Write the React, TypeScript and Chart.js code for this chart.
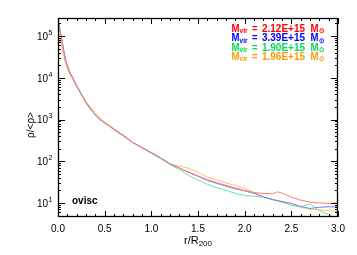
import React, { useEffect, useRef } from "react";
import { Chart, registerables } from "chart.js";

Chart.register(...registerables);

// r / R200 sample positions
const radius = [
  0, 0.02, 0.04, 0.06, 0.08, 0.1, 0.13, 0.16, 0.2, 0.25, 0.3, 0.35, 0.4, 0.45, 0.5, 0.55, 0.6,
  0.7, 0.8, 0.9, 1.0, 1.1, 1.2, 1.3, 1.4, 1.5, 1.6, 1.7, 1.8, 1.9, 2.0, 2.1, 2.2, 2.3, 2.35, 2.4,
  2.5, 2.6, 2.7, 2.8, 2.9, 3.0,
];

// rho / <rho> for each halo
const rhoRed = [
  2.5e5, 1.38e5, 8.3e4, 4.6e4, 2.7e4, 1.95e4, 1.29e4, 9.8e3, 6.3e3, 4.0e3, 2.5e3, 1.78e3, 1.29e3,
  1.0e3, 830, 710, 590, 417, 282, 209, 158, 120, 87, 69, 55, 44.7, 36.3, 30.9, 26.3, 22.9, 20.0,
  17.8, 17.0, 16.6, 18.6, 17.2, 13.8, 11.7, 10.5, 10.0, 9.8, 10.0,
];
const rhoBlue = [
  2.6e5, 1.45e5, 8.5e4, 4.7e4, 2.75e4, 2.0e4, 1.32e4, 1.0e4, 6.5e3, 4.1e3, 2.57e3, 1.82e3, 1.29e3,
  1.0e3, 830, 710, 590, 417, 282, 214, 162, 120, 87, 69, 53.7, 43.7, 34.7, 29.5, 25.1, 21.9, 19.5,
  17.0, 14.1, 12.0, 11.5, 10.7, 9.8, 8.3, 7.4, 7.9, 8.1, 8.1,
];
const rhoGreen = [
  2.4e5, 1.32e5, 7.9e4, 4.3e4, 2.57e4, 1.86e4, 1.23e4, 9.5e3, 6.2e3, 3.9e3, 2.45e3, 1.74e3, 1.26e3,
  977, 813, 692, 575, 407, 282, 209, 155, 115, 83, 63, 45.7, 35.5, 28.2, 23.4, 20.0, 17.0, 15.1,
  14.5, 13.8, 12.0, 11.2, 10.5, 8.7, 8.1, 9.5, 6.6, 5.2, 4.1,
];
const rhoOrange = [
  1.6e5, 8.9e4, 6.0e4, 3.55e4, 2.24e4, 1.66e4, 1.15e4, 8.9e3, 6.0e3, 4.0e3, 2.63e3, 1.95e3, 1.48e3,
  1.12e3, 870, 692, 550, 398, 282, 209, 158, 120, 87, 76, 67.6, 55, 41.7, 35.5, 30.2, 26.3, 22.4,
  17.8, 14.1, 12.3, 11.5, 11.0, 9.5, 7.9, 7.1, 6.9, 6.6, 6.2,
];

const virialMasses = ["2.12E+15", "3.39E+15", "1.90E+15", "1.96E+15"];
const runLabel = "ovisc";

const xTicks = [0, 0.5, 1.0, 1.5, 2.0, 2.5, 3.0];
const xTickLabels = ["0.0", "0.5", "1.0", "1.5", "2.0", "2.5", "3.0"];
const yTicks = [10, 100, 1000, 10000, 100000];
const yTickExponents = ["1", "2", "3", "4", "5"];

const textColors = ["#ff0000", "#0000ff", "#00dd55", "#ff9900"];
const lineColors = ["#ff7a7a", "#7a7aff", "#66e89a", "#ffbe6a"];

const FONT = "'Liberation Sans', Arial, Helvetica, sans-serif";

function fitText(
  ctx: CanvasRenderingContext2D,
  text: string,
  x: number,
  y: number,
  font: string,
  width: number
) {
  ctx.font = font;
  const w = ctx.measureText(text).width;
  ctx.save();
  ctx.translate(x, y);
  ctx.scale(width / w, 1);
  ctx.textAlign = "left";
  ctx.fillText(text, 0, 0);
  ctx.restore();
}

const framePlugin = {
  id: "idlFrame",
  afterDraw(chart: any) {
    const ctx = chart.ctx as CanvasRenderingContext2D;
    const { left, right, top, bottom } = chart.chartArea;
    const xs = chart.scales.x;
    const ys = chart.scales.y;
    ctx.save();
    ctx.strokeStyle = "#000";
    ctx.lineWidth = 1.3;
    ctx.strokeRect(left + 0.5, top + 0.5, right - left - 1, bottom - top - 1);

    ctx.lineWidth = 1;
    ctx.beginPath();
    for (let k = 0; k <= 30; k++) {
      const v = k / 10;
      const px = Math.round(xs.getPixelForValue(v)) + 0.5;
      const len = k % 5 === 0 ? 6 : 3;
      ctx.moveTo(px, bottom);
      ctx.lineTo(px, bottom - len);
      ctx.moveTo(px, top);
      ctx.lineTo(px, top + len);
    }
    for (let d = 0; d <= 5; d++) {
      for (let m = 1; m <= 9; m++) {
        const v = m * Math.pow(10, d);
        if (v < ys.min || v > ys.max) continue;
        const py = Math.round(ys.getPixelForValue(v)) + 0.5;
        const len = m === 1 ? 7 : 3;
        ctx.moveTo(left, py);
        ctx.lineTo(left + len, py);
        ctx.moveTo(right, py);
        ctx.lineTo(right - len, py);
      }
    }
    ctx.stroke();

    ctx.fillStyle = "#000";
    ctx.font = `10px ${FONT}`;
    ctx.textAlign = "center";
    ctx.textBaseline = "middle";
    xTicks.forEach((v, i) => {
      ctx.fillText(xTickLabels[i], xs.getPixelForValue(v), bottom + 12);
    });
    yTicks.forEach((v, i) => {
      const py = ys.getPixelForValue(v);
      ctx.font = `10px ${FONT}`;
      ctx.textAlign = "right";
      ctx.fillText("10", left - 10, py + 1);
      ctx.font = `7px ${FONT}`;
      ctx.textAlign = "left";
      ctx.fillText(yTickExponents[i], left - 9.5, py - 3);
    });

    ctx.save();
    ctx.translate(31, 125);
    ctx.rotate(-Math.PI / 2);
    ctx.font = `10px ${FONT}`;
    ctx.textAlign = "center";
    ctx.fillText("ρ/<ρ>", 0, 0);
    ctx.restore();

    ctx.textAlign = "left";
    const main = "r/R";
    ctx.font = `11px ${FONT}`;
    const w1 = ctx.measureText(main).width;
    ctx.font = `8px ${FONT}`;
    const w2 = ctx.measureText("200").width;
    const x0 = (left + right) / 2 - (w1 + w2) / 2;
    ctx.font = `11px ${FONT}`;
    ctx.fillText(main, x0, 241);
    ctx.font = `8px ${FONT}`;
    ctx.fillText("200", x0 + w1, 244);

    ctx.font = `bold 10px ${FONT}`;
    ctx.textAlign = "left";
    ctx.fillText(runLabel, 72, 201);

    virialMasses.forEach((m, i) => {
      const y = 29.5 + i * 9.2;
      ctx.fillStyle = textColors[i];
      fitText(ctx, "M", 231.5, y, `bold 10px ${FONT}`, 8);
      fitText(ctx, "vir", 239.5, y + 2, `bold 7px ${FONT}`, 8);
      fitText(ctx, "=", 252, y, `bold 10px ${FONT}`, 5.5);
      fitText(ctx, m, 262, y, `bold 10px ${FONT}`, 43);
      fitText(ctx, "M", 310.5, y, `bold 10px ${FONT}`, 8);
      fitText(ctx, "⊙", 318.5, y + 2, `bold 7px ${FONT}`, 5.5);
    });
    ctx.restore();
  },
};

export default function App() {
  const canvasRef = useRef<HTMLCanvasElement | null>(null);

  useEffect(() => {
    const canvas = canvasRef.current;
    if (!canvas) return;
    const series = [rhoRed, rhoBlue, rhoGreen, rhoOrange];
    const chart = new Chart(canvas, {
      type: "line",
      data: {
        datasets: series.map((vals, i) => ({
          label: `M_vir = ${virialMasses[i]}`,
          data: radius.map((r, j) => ({ x: r, y: vals[j] })),
          borderColor: lineColors[i],
          backgroundColor: lineColors[i],
          borderWidth: 1,
          pointRadius: 0,
          tension: 0,
          fill: false,
        })),
      },
      options: {
        responsive: false,
        devicePixelRatio: 1,
        animation: false,
        layout: { padding: { left: 58, right: 19, top: 18, bottom: 38 } },
        scales: {
          x: { type: "linear", min: 0, max: 3, display: false },
          y: { type: "logarithmic", min: 4.62, max: 2.7e5, display: false },
        },
        plugins: { legend: { display: false }, tooltip: { enabled: false } },
      },
      plugins: [framePlugin],
    } as any);
    return () => chart.destroy();
  }, []);

  return (
    <div style={{ position: "absolute", left: 0, top: 0, width: 357, height: 255, background: "#fff" }}>
      <canvas ref={canvasRef} width={357} height={255} style={{ width: 357, height: 255 }} />
    </div>
  );
}
